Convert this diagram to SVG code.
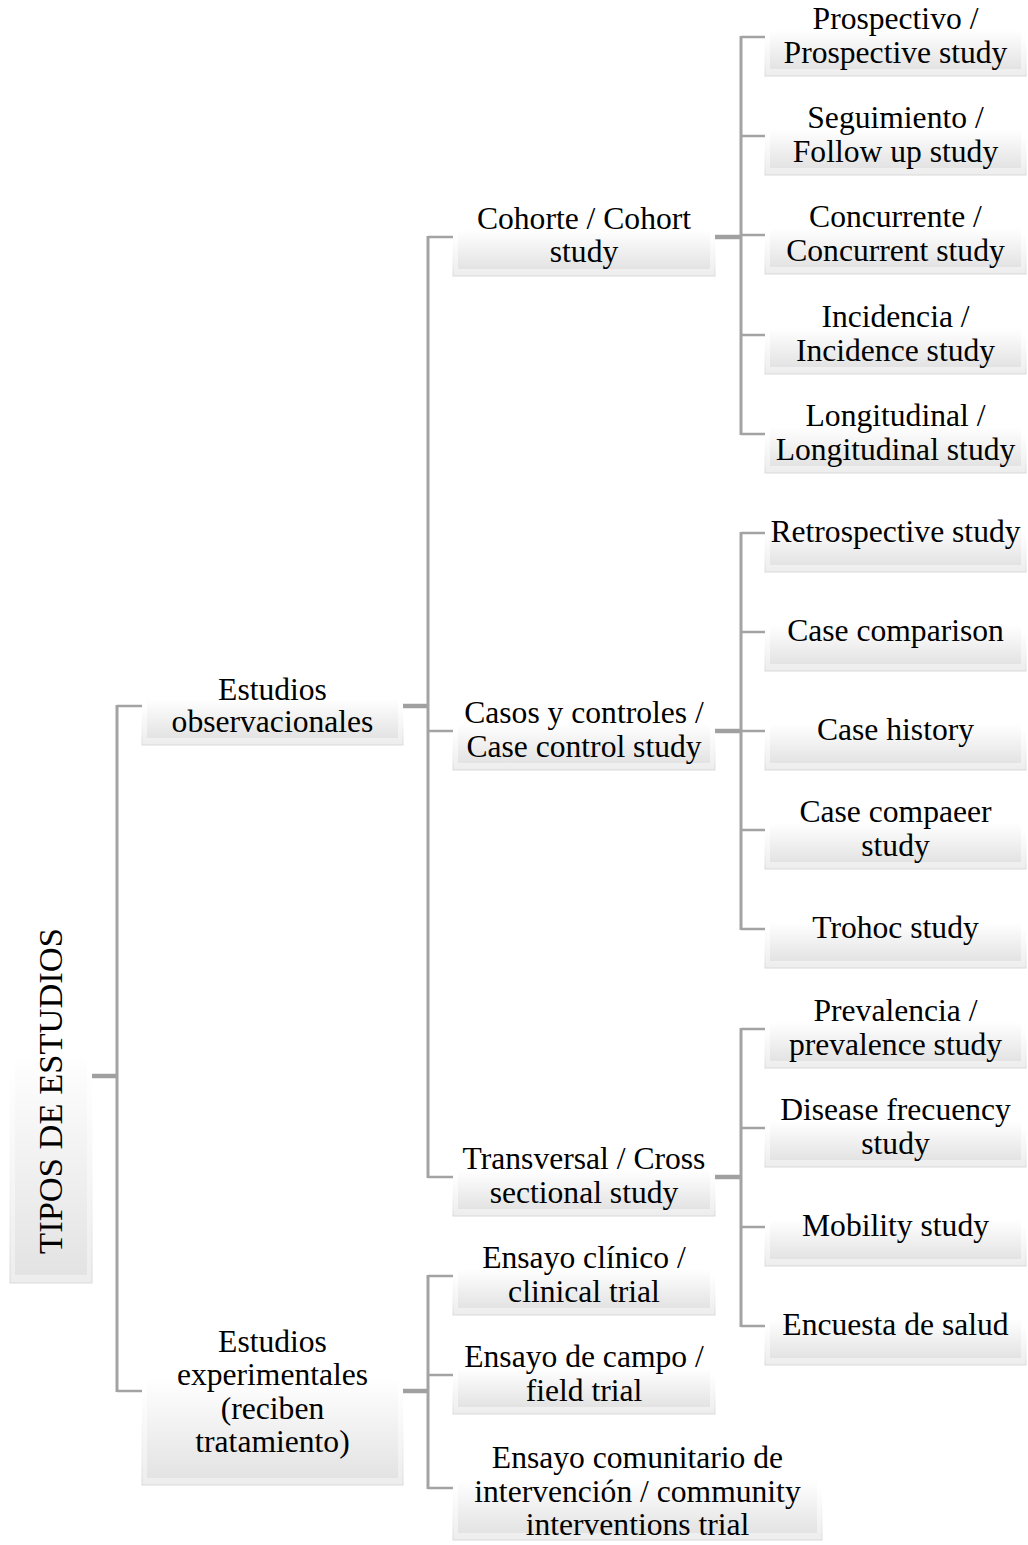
<svg xmlns="http://www.w3.org/2000/svg" width="1028" height="1545" viewBox="0 0 1028 1545">
<defs>
<linearGradient id="gOuter" x1="0" y1="0" x2="0" y2="1">
<stop offset="0" stop-color="#ffffff"/>
<stop offset="0.48" stop-color="#ffffff"/>
<stop offset="1" stop-color="#ededed"/>
</linearGradient>
<linearGradient id="gFace" x1="0" y1="0" x2="0" y2="1">
<stop offset="0" stop-color="#ffffff"/>
<stop offset="0.45" stop-color="#ffffff"/>
<stop offset="1" stop-color="#e3e3e3"/>
</linearGradient>
<linearGradient id="gRim" x1="0" y1="0" x2="0" y2="1">
<stop offset="0" stop-color="#ffffff" stop-opacity="0"/>
<stop offset="0.5" stop-color="#ffffff" stop-opacity="0"/>
<stop offset="1" stop-color="#d9d9d9" stop-opacity="1"/>
</linearGradient>
</defs>
<style>
.bx{fill:url(#gOuter);stroke:url(#gRim);stroke-width:1}
.fc{fill:url(#gFace)}
.t{font-family:"Liberation Serif","Times New Roman",serif;font-size:31.6px;fill:#000;text-anchor:middle}
.tr{font-family:"Liberation Serif","Times New Roman",serif;font-size:34.5px;fill:#000;text-anchor:middle}
.c{stroke:#a3a3a3;stroke-width:3;fill:none}
.cs{stroke:#a3a3a3;stroke-width:2.5;fill:none}
.cp{stroke:#a0a0a0;stroke-width:4.5;fill:none}
</style>

<g id="connectors">
<line class="cp" x1="92" y1="1076" x2="117" y2="1076"/>
<line class="c" x1="117" y1="705" x2="117" y2="1392"/>
<line class="cs" x1="117" y1="706" x2="142" y2="706"/>
<line class="cs" x1="117" y1="1391" x2="142" y2="1391"/>

<line class="cp" x1="403" y1="706" x2="428" y2="706"/>
<line class="c" x1="428" y1="236" x2="428" y2="1178"/>
<line class="cs" x1="428" y1="237" x2="453" y2="237"/>
<line class="cs" x1="428" y1="731" x2="453" y2="731"/>
<line class="cs" x1="428" y1="1177" x2="453" y2="1177"/>

<line class="cp" x1="403" y1="1391" x2="428" y2="1391"/>
<line class="c" x1="428" y1="1275" x2="428" y2="1489"/>
<line class="cs" x1="428" y1="1276" x2="453" y2="1276"/>
<line class="cs" x1="428" y1="1375" x2="453" y2="1375"/>
<line class="cs" x1="428" y1="1488" x2="453" y2="1488"/>

<line class="cp" x1="715" y1="237" x2="741" y2="237"/>
<line class="c" x1="741" y1="36" x2="741" y2="435"/>
<line class="cs" x1="741" y1="37" x2="765" y2="37"/>
<line class="cs" x1="741" y1="136" x2="765" y2="136"/>
<line class="cs" x1="741" y1="235" x2="765" y2="235"/>
<line class="cs" x1="741" y1="335" x2="765" y2="335"/>
<line class="cs" x1="741" y1="434" x2="765" y2="434"/>

<line class="cp" x1="715" y1="731" x2="741" y2="731"/>
<line class="c" x1="741" y1="532" x2="741" y2="930"/>
<line class="cs" x1="741" y1="533" x2="765" y2="533"/>
<line class="cs" x1="741" y1="632" x2="765" y2="632"/>
<line class="cs" x1="741" y1="731" x2="765" y2="731"/>
<line class="cs" x1="741" y1="830" x2="765" y2="830"/>
<line class="cs" x1="741" y1="929" x2="765" y2="929"/>

<line class="cp" x1="715" y1="1177" x2="741" y2="1177"/>
<line class="c" x1="741" y1="1028" x2="741" y2="1327"/>
<line class="cs" x1="741" y1="1029" x2="765" y2="1029"/>
<line class="cs" x1="741" y1="1128" x2="765" y2="1128"/>
<line class="cs" x1="741" y1="1227" x2="765" y2="1227"/>
<line class="cs" x1="741" y1="1326" x2="765" y2="1326"/>
</g>

<g id="root">
<rect class="bx" x="10" y="869" width="82" height="414"/>
<rect class="fc" x="15" y="869" width="72" height="406"/>
<text class="tr" transform="translate(62,1091) rotate(-90)" x="0" y="0">TIPOS DE ESTUDIOS</text>
</g>

<g id="observacionales">
<rect class="bx" x="142" y="667" width="261" height="78"/>
<rect class="fc" x="147" y="667" width="251" height="71"/>
<text class="t" x="272.5" y="700">Estudios</text>
<text class="t" x="272.5" y="732">observacionales</text>
</g>

<g id="experimentales">
<rect class="bx" x="142" y="1297" width="261" height="188"/>
<rect class="fc" x="147" y="1297" width="251" height="181"/>
<text class="t" x="272.5" y="1352">Estudios</text>
<text class="t" x="272.5" y="1385">experimentales</text>
<text class="t" x="272.5" y="1419">(reciben</text>
<text class="t" x="272.5" y="1452">tratamiento)</text>
</g>

<g id="cohorte">
<rect class="bx" x="453" y="198" width="262" height="78"/>
<rect class="fc" x="458" y="198" width="252" height="71"/>
<text class="t" x="584" y="229">Cohorte / Cohort</text>
<text class="t" x="584" y="262">study</text>
</g>

<g id="casos">
<rect class="bx" x="453" y="692" width="262" height="78"/>
<rect class="fc" x="458" y="692" width="252" height="71"/>
<text class="t" x="584" y="723">Casos y controles /</text>
<text class="t" x="584" y="757">Case control study</text>
</g>

<g id="transversal">
<rect class="bx" x="453" y="1138" width="262" height="78"/>
<rect class="fc" x="458" y="1138" width="252" height="71"/>
<text class="t" x="584" y="1169">Transversal / Cross</text>
<text class="t" x="584" y="1203">sectional study</text>
</g>

<g id="clinico">
<rect class="bx" x="453" y="1237" width="262" height="78"/>
<rect class="fc" x="458" y="1237" width="252" height="71"/>
<text class="t" x="584" y="1268">Ensayo clínico /</text>
<text class="t" x="584" y="1302">clinical trial</text>
</g>

<g id="campo">
<rect class="bx" x="453" y="1336" width="262" height="78"/>
<rect class="fc" x="458" y="1336" width="252" height="71"/>
<text class="t" x="584" y="1367">Ensayo de campo /</text>
<text class="t" x="584" y="1401">field trial</text>
</g>

<g id="comunitario">
<rect class="bx" x="453" y="1436" width="369" height="104"/>
<rect class="fc" x="458" y="1436" width="359" height="97"/>
<text class="t" x="637.5" y="1468">Ensayo comunitario de</text>
<text class="t" x="637.5" y="1502">intervención / community</text>
<text class="t" x="637.5" y="1535">interventions trial</text>
</g>

<g id="prospectivo">
<rect class="bx" x="765" y="-2" width="261" height="78"/>
<rect class="fc" x="770" y="-2" width="251" height="71"/>
<text class="t" x="895.5" y="29">Prospectivo /</text>
<text class="t" x="895.5" y="63">Prospective study</text>
</g>

<g id="seguimiento">
<rect class="bx" x="765" y="97" width="261" height="78"/>
<rect class="fc" x="770" y="97" width="251" height="71"/>
<text class="t" x="895.5" y="128">Seguimiento /</text>
<text class="t" x="895.5" y="162">Follow up study</text>
</g>

<g id="concurrente">
<rect class="bx" x="765" y="196" width="261" height="78"/>
<rect class="fc" x="770" y="196" width="251" height="71"/>
<text class="t" x="895.5" y="227">Concurrente /</text>
<text class="t" x="895.5" y="261">Concurrent study</text>
</g>

<g id="incidencia">
<rect class="bx" x="765" y="296" width="261" height="78"/>
<rect class="fc" x="770" y="296" width="251" height="71"/>
<text class="t" x="895.5" y="327">Incidencia /</text>
<text class="t" x="895.5" y="361">Incidence study</text>
</g>

<g id="longitudinal">
<rect class="bx" x="765" y="395" width="261" height="78"/>
<rect class="fc" x="770" y="395" width="251" height="71"/>
<text class="t" x="895.5" y="426">Longitudinal /</text>
<text class="t" x="895.5" y="460">Longitudinal study</text>
</g>

<g id="retrospective">
<rect class="bx" x="765" y="494" width="261" height="78"/>
<rect class="fc" x="770" y="494" width="251" height="71"/>
<text class="t" x="895.5" y="542">Retrospective study</text>
</g>

<g id="casecomparison">
<rect class="bx" x="765" y="593" width="261" height="78"/>
<rect class="fc" x="770" y="593" width="251" height="71"/>
<text class="t" x="895.5" y="641">Case comparison</text>
</g>

<g id="casehistory">
<rect class="bx" x="765" y="692" width="261" height="78"/>
<rect class="fc" x="770" y="692" width="251" height="71"/>
<text class="t" x="895.5" y="740">Case history</text>
</g>

<g id="casecompaeer">
<rect class="bx" x="765" y="791" width="261" height="78"/>
<rect class="fc" x="770" y="791" width="251" height="71"/>
<text class="t" x="895.5" y="822">Case compaeer</text>
<text class="t" x="895.5" y="856">study</text>
</g>

<g id="trohoc">
<rect class="bx" x="765" y="890" width="261" height="78"/>
<rect class="fc" x="770" y="890" width="251" height="71"/>
<text class="t" x="895.5" y="938">Trohoc study</text>
</g>

<g id="prevalencia">
<rect class="bx" x="765" y="990" width="261" height="78"/>
<rect class="fc" x="770" y="990" width="251" height="71"/>
<text class="t" x="895.5" y="1021">Prevalencia /</text>
<text class="t" x="895.5" y="1055">prevalence study</text>
</g>

<g id="disease">
<rect class="bx" x="765" y="1089" width="261" height="78"/>
<rect class="fc" x="770" y="1089" width="251" height="71"/>
<text class="t" x="895.5" y="1120">Disease frecuency</text>
<text class="t" x="895.5" y="1154">study</text>
</g>

<g id="mobility">
<rect class="bx" x="765" y="1188" width="261" height="78"/>
<rect class="fc" x="770" y="1188" width="251" height="71"/>
<text class="t" x="895.5" y="1236">Mobility study</text>
</g>

<g id="encuesta">
<rect class="bx" x="765" y="1287" width="261" height="78"/>
<rect class="fc" x="770" y="1287" width="251" height="71"/>
<text class="t" x="895.5" y="1335">Encuesta de salud</text>
</g>
</svg>
